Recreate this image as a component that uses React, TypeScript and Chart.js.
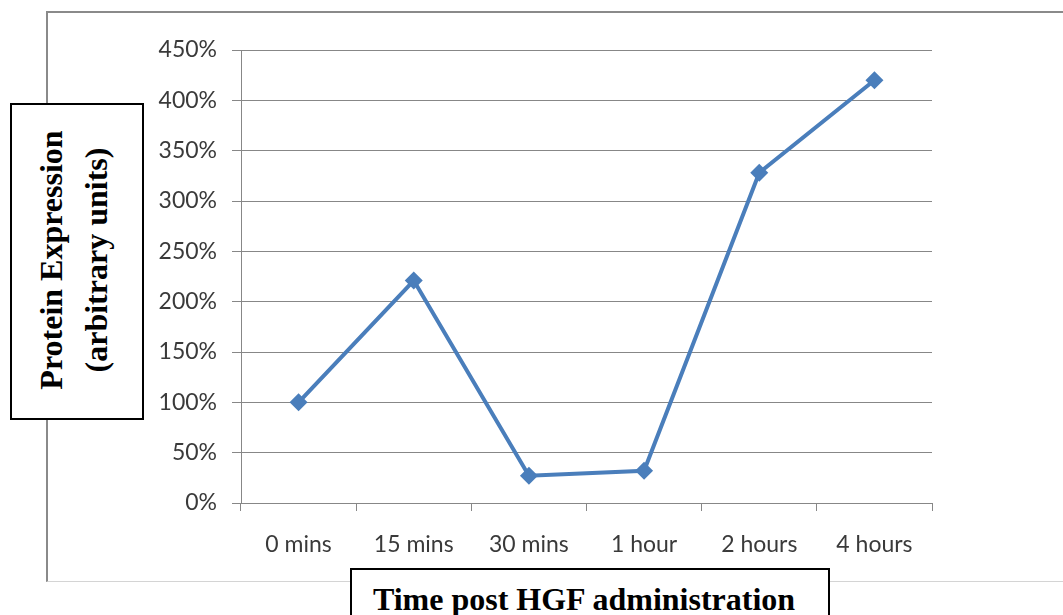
import React, { useEffect, useRef } from "react";
import { Chart, registerables } from "chart.js";

Chart.register(...registerables);

const categories: string[] = ["0 mins", "15 mins", "30 mins", "1 hour", "2 hours", "4 hours"];
const expression: number[] = [100, 221, 27, 32, 328, 420];
const yTickStep = 50;
const yMax = 450;
const yTitleLines: string[] = ["Protein Expression", "(arbitrary units)"];
const xTitle = "Time post HGF administration";

export default function App() {
  const canvasRef = useRef<HTMLCanvasElement | null>(null);

  useEffect(() => {
    document.body.style.margin = "0";
    const canvas = canvasRef.current;
    if (!canvas) return;
    const chart = new Chart(canvas, {
      type: "line",
      data: {
        labels: categories,
        datasets: [
          {
            data: expression,
            borderColor: "#4A7EBB",
            backgroundColor: "#4A7EBB",
            borderWidth: 4,
            pointStyle: "rectRot",
            pointRadius: 9,
            pointBorderWidth: 0,
            pointBackgroundColor: "#4A7EBB",
            tension: 0,
          },
        ],
      },
      options: {
        responsive: false,
        animation: false,
        layout: { padding: { left: 150, right: 131, top: 50, bottom: 0 } },
        plugins: { legend: { display: false }, tooltip: { enabled: false } },
        scales: {
          x: {
            offset: true,
            grid: {
              offset: true,
              drawOnChartArea: false,
              drawTicks: true,
              tickLength: 8,
              color: "#878787",
            },
            border: { display: true, color: "#878787", width: 1 },
            ticks: {
              color: "#3a3a3a",
              padding: 20,
              font: { family: "Lato", size: 23 },
              maxRotation: 0,
            },
            afterFit: (scale: any) => {
              scale.height = 112;
            },
          },
          y: {
            min: 0,
            max: yMax,
            grid: { color: "#878787", tickLength: 9, lineWidth: 1 },
            border: { display: true, color: "#878787", width: 1 },
            ticks: {
              stepSize: yTickStep,
              color: "#3a3a3a",
              padding: 15,
              font: { family: "Lato", size: 23 },
              callback: (v: any) => `${v}%`,
            },
            afterFit: (scale: any) => {
              scale.width = 91;
            },
          },
        },
      },
    });
    return () => chart.destroy();
  }, []);

  return (
    <div
      style={{
        position: "absolute",
        left: 0,
        top: 0,
        width: 1063,
        height: 615,
        overflow: "hidden",
        background: "#fff",
      }}
    >
      <div
        style={{
          position: "absolute",
          left: 46,
          top: 11,
          width: 1063,
          height: 568,
          borderTop: "2px solid #8a8a8a",
          borderLeft: "2px solid #8a8a8a",
          borderBottom: "1px solid #d4d4d4",
        }}
      />
      <canvas
        ref={canvasRef}
        width={1063}
        height={615}
        style={{ position: "absolute", left: 0, top: 0, width: 1063, height: 615 }}
      />
      <div
        style={{
          position: "absolute",
          left: 10,
          top: 103,
          width: 130,
          height: 313,
          border: "2px solid #000",
          background: "#fff",
          display: "flex",
          alignItems: "center",
          justifyContent: "center",
        }}
      >
        <div
          style={{
            transform: "translate(-3px, -2px) rotate(-90deg)",
            whiteSpace: "nowrap",
            textAlign: "center",
            fontFamily: "'Liberation Serif', 'Times New Roman', serif",
            fontWeight: "bold",
            fontSize: 32,
            lineHeight: "45px",
            color: "#000",
          }}
        >
          {yTitleLines.map((t, i) => (
            <div key={i}>{t}</div>
          ))}
        </div>
      </div>
      <div
        style={{
          position: "absolute",
          left: 350,
          top: 568,
          width: 480,
          height: 60,
          border: "2px solid #000",
          background: "#fff",
          textAlign: "center",
          fontFamily: "'Liberation Serif', 'Times New Roman', serif",
          fontWeight: "bold",
          fontSize: 32,
          lineHeight: "32px",
          paddingTop: 13,
          paddingRight: 12,
          boxSizing: "border-box",
          whiteSpace: "nowrap",
          color: "#000",
        }}
      >
        {xTitle}
      </div>
    </div>
  );
}
